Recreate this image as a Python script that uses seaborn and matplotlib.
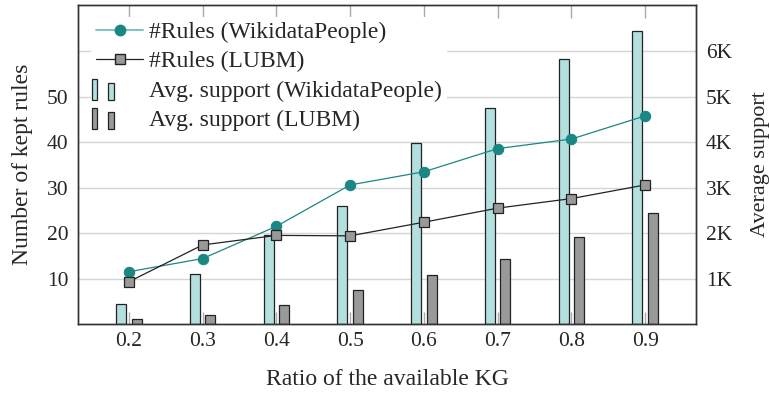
import matplotlib
matplotlib.use("Agg")
from matplotlib import pyplot as plt
from matplotlib.patches import Rectangle
from matplotlib.legend_handler import HandlerBase
import seaborn as sns
import pandas as pd

# Data
ratios = [0.2, 0.3, 0.4, 0.5, 0.6, 0.7, 0.8, 0.9]
rules_wikidata = [11.5, 14.4, 21.5, 30.6, 33.5, 38.6, 40.7, 45.8]
rules_lubm = [9.3, 17.4, 19.5, 19.4, 22.4, 25.5, 27.6, 30.6]
support_wikidata = [440, 1090, 1960, 2600, 3980, 4750, 5830, 6450]
support_lubm = [120, 200, 410, 740, 1070, 1440, 1920, 2440]

left_ticks = [10, 20, 30, 40, 50]
right_ticks = [1000, 2000, 3000, 4000, 5000, 6000]
right_tick_labels = ["1K", "2K", "3K", "4K", "5K", "6K"]

teal = "#1b8783"
light_teal = "#b3e0de"
gray = "#999999"


class TwoBarHandler(HandlerBase):
    # pgfplots style ybar legend: two small bars
    def create_artists(self, legend, orig_handle, xdescent, ydescent,
                       width, height, fontsize, trans):
        fc = orig_handle.get_facecolor()
        ec = orig_handle.get_edgecolor()
        r1 = Rectangle((-xdescent - 0.08 * width, -ydescent - 0.2 * height),
                       0.11 * width, 1.3 * height, facecolor=fc, edgecolor=ec,
                       lw=0.9, transform=trans)
        r2 = Rectangle((-xdescent + 0.25 * width, -ydescent - 0.2 * height),
                       0.14 * width, 1.05 * height, facecolor=fc, edgecolor=ec,
                       lw=0.9, transform=trans)
        return [r1, r2]


sns.set_theme(style="white")
plt.rcParams["font.family"] = ["Liberation Serif", "DejaVu Serif"]

fig = plt.figure(figsize=(7.69, 3.94), dpi=100)
ax = fig.add_axes([78 / 769, 70 / 394, (696 - 78) / 769, (324 - 5) / 394])
ax2 = ax.twinx()

# bars on the primary axes (drawn below), right-hand scale
offset = 0.0105
bw = 0.0138
ax.bar([r - offset for r in ratios], support_wikidata, width=bw,
       color=light_teal, edgecolor="#222222", linewidth=0.9, zorder=2)
ax.bar([r + offset for r in ratios], support_lubm, width=bw,
       color=gray, edgecolor="#222222", linewidth=0.9, zorder=2)
ax.set_ylim(0, 7020)
ax.set_yticks(right_ticks)
ax.set_yticklabels(right_tick_labels)
ax.yaxis.tick_right()
ax.yaxis.set_label_position("right")
ax.set_ylabel("Average support", fontsize=16, labelpad=14)
ax.grid(axis="y", color="#d5d5d5", linewidth=1.0, zorder=0)
ax.set_axisbelow(True)

# lines on the twin axes, left-hand scale
df = pd.DataFrame({"ratio": ratios, "wiki": rules_wikidata, "lubm": rules_lubm})
sns.lineplot(data=df, x="ratio", y="wiki", ax=ax2, color=teal, linewidth=0.9,
             marker="o", markersize=7.5, markeredgecolor=teal, zorder=5)
sns.lineplot(data=df, x="ratio", y="lubm", ax=ax2, color="#222222", linewidth=0.9,
             marker="s", markersize=7.5, markerfacecolor=gray,
             markeredgecolor="#222222", markeredgewidth=0.9, zorder=5)
ax2.set_ylim(0, 70.2)
ax2.set_yticks(left_ticks)
ax2.yaxis.tick_left()
ax2.yaxis.set_label_position("left")
ax2.set_ylabel("Number of kept rules", fontsize=17, labelpad=10)

ax.set_xlim(0.131, 0.969)
ax.set_xticks(ratios)
ax.set_xticklabels([f"{r:.1f}" for r in ratios])
ax.set_xlabel("Ratio of the available KG", fontsize=17, labelpad=13)
ax2.set_xlabel("")

for a in (ax, ax2):
    a.tick_params(axis="both", labelsize=15.5, length=0)
    for s in a.spines.values():
        s.set_color("#333333")
        s.set_linewidth(1.0)
ax.tick_params(axis="x", top=True, bottom=True, direction="in", length=9,
               color="#aaaaaa", width=1.0, pad=6)
ax.tick_params(axis="y", pad=7)
ax2.tick_params(axis="y", pad=7)

# legend
h1 = plt.Line2D([], [], color="#7cc4c0", linewidth=1.4, marker="o", markersize=7.5,
                markerfacecolor=teal, markeredgecolor=teal)
h2 = plt.Line2D([], [], color="#222222", linewidth=0.9, marker="s", markersize=7,
                markerfacecolor=gray, markeredgecolor="#222222")
h3 = Rectangle((0, 0), 1, 1, facecolor=light_teal, edgecolor="#222222")
h4 = Rectangle((0, 0), 1, 1, facecolor=gray, edgecolor="#222222")
leg = ax2.legend([h1, h2, h3, h4],
                 ["#Rules (WikidataPeople)", "#Rules (LUBM)",
                  "Avg. support (WikidataPeople)", "Avg. support (LUBM)"],
                 handler_map={Rectangle: TwoBarHandler()},
                 loc="upper left", bbox_to_anchor=(0.01, 0.985), fontsize=17,
                 frameon=True, facecolor="white", edgecolor="none", framealpha=1.0,
                 fancybox=False, borderpad=0.2, labelspacing=0.33,
                 handlelength=2.0, handletextpad=0.25, borderaxespad=0.3)
leg.set_zorder(10)

fig.savefig("out.png", dpi=100)
